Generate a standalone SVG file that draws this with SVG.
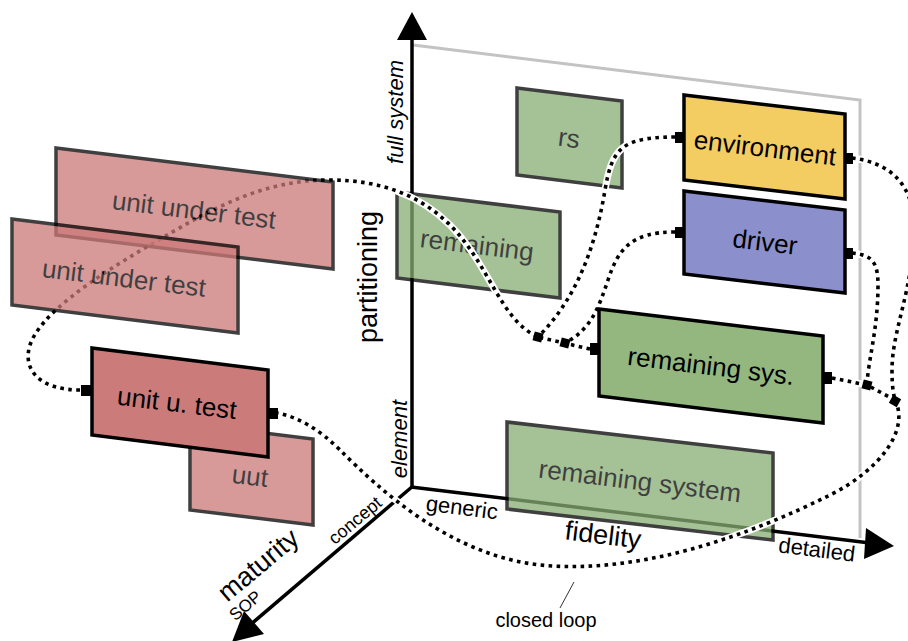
<svg xmlns="http://www.w3.org/2000/svg" width="908" height="641" viewBox="0 0 908 641">
  <style>
    text { font-family: "Liberation Sans", Arial, sans-serif; fill: #000; }
    .box { stroke: #000; stroke-width: 3.5; stroke-linejoin: miter; }
    .faint { opacity: 0.75; }
    .lbl { font-size: 26px; text-anchor: middle; }
    .axis { stroke: #000; stroke-width: 3.5; fill: none; }
    .halo { fill: none; stroke: #fff; stroke-width: 7; }
    .dots { fill: none; stroke: #000; stroke-width: 3.6; stroke-dasharray: 3.6 4.4; }
    .port { fill: #000; }
    .green { fill: #88ad73; }
    .pink { fill: #cc7878; }
  </style>

  <defs>
    <!-- wiring between ports and junctions -->
    <g id="wires" fill="none">
      <path d="M80,390 C40,390 22,370 30,345 C40,315 90,280 150,245 C210,210 260,180 330,180 C380,180 420,195 450,225 C490,265 500,320 538,337"/>
      <path d="M675,137 C620,137 612,150 605,190 C595,250 575,300 538,337"/>
      <path d="M675,232 C630,232 618,250 608,280 C598,310 590,330 565,343"/>
      <path d="M590,349 L538,337"/>
      <path d="M832,378 L867,385 L895,400"/>
      <path d="M852,253 C872,255 878,262 878,285 C878,330 868,360 867,385"/>
      <path d="M852,158 C885,162 915,180 914,230 C913,290 892,330 892,370 C892,385 893,392 895,400"/>
      <path d="M895,400 C910,430 880,470 830,495 C750,535 640,575 540,565 C450,555 380,490 340,450 C320,430 300,418 278,413"/>
    </g>
  </defs>

  <!-- back plane of the partitioning / fidelity space -->
  <polyline points="413,45 860,100 860,538" fill="none" stroke="#c3c3c3" stroke-width="3"/>

  <!-- axes -->
  <g id="axes">
    <line class="axis" x1="412" y1="489" x2="412" y2="36"/>
    <polygon points="412,12 397,40 427,40" fill="#000"/>
    <line class="axis" x1="411" y1="487" x2="870" y2="543"/>
    <polygon points="894,546 866,528 864,559" fill="#000"/>
    <line class="axis" x1="413" y1="486" x2="250" y2="625"/>
    <polygon points="232,642 264,634 244,611" fill="#000"/>
  </g>

  <!-- translucent variants of the remaining system -->
  <g id="rs" class="faint">
    <polygon class="box green" points="517,88 622,101 622,188 517,175"/>
    <text class="lbl" transform="translate(569,138) rotate(7)" y="9">rs</text>
  </g>
  <g id="remaining" class="faint">
    <polygon class="box green" points="397,192 560,212 560,298 397,278"/>
    <text class="lbl" transform="translate(477,245) rotate(7)" y="9">remaining</text>
  </g>
  <g id="remaining-system" class="faint">
    <polygon class="box green" points="507,422 773,453 773,540 507,509"/>
    <text class="lbl" transform="translate(640,481) rotate(7)" y="9">remaining system</text>
  </g>

  <!-- signal connections: white halo under a dotted line -->
  <g id="connectors">
    <use href="#wires" class="halo"/>
    <use href="#wires" class="dots"/>
    <g id="junctions" fill="#000">
      <rect x="-4.5" y="-4.5" width="9" height="9" transform="translate(538,337) rotate(15)"/>
      <rect x="-4.5" y="-4.5" width="9" height="9" transform="translate(565,343) rotate(15)"/>
      <rect x="-4.5" y="-4.5" width="9" height="9" transform="translate(867,385) rotate(15)"/>
      <rect x="-4.5" y="-4.5" width="9" height="9" transform="translate(895,401) rotate(30)"/>
    </g>
  </g>

  <!-- detailed models -->
  <g id="environment">
    <polygon class="box" fill="#f3cd62" points="684,95 845,114 845,199 684,180"/>
    <rect class="port" x="675" y="132" width="9" height="11"/>
    <rect class="port" x="845" y="153" width="8" height="11"/>
    <text class="lbl" transform="translate(765,148) rotate(7)" y="9">environment</text>
  </g>
  <g id="driver">
    <polygon class="box" fill="#8b8fcc" points="684,191 845,210 845,293 684,274"/>
    <rect class="port" x="675" y="227" width="9" height="11"/>
    <rect class="port" x="845" y="248" width="8" height="11"/>
    <text class="lbl" transform="translate(765,242) rotate(7)" y="9">driver</text>
  </g>
  <g id="remaining-sys">
    <polygon class="box" fill="#93b77e" points="599,309 823,336 823,423 599,396"/>
    <rect class="port" x="590" y="343" width="9" height="12"/>
    <rect class="port" x="823" y="372" width="9" height="12"/>
    <text class="lbl" transform="translate(711,366) rotate(7)" y="9">remaining sys.</text>
  </g>

  <!-- unit under test at different maturity levels -->
  <g id="uut-back" class="faint">
    <polygon class="box pink" points="56,148 333,182 333,269 56,235"/>
    <text class="lbl" transform="translate(194,210) rotate(7)" y="9">unit under test</text>
  </g>
  <g id="uut-front" class="faint">
    <polygon class="box pink" points="12,219 238,247 238,333 12,305"/>
    <text class="lbl" transform="translate(124,278) rotate(7)" y="9">unit under test</text>
  </g>
  <g id="uut-small" class="faint">
    <polygon class="box pink" points="190,424 313,439 313,525 190,510"/>
    <text class="lbl" transform="translate(250,476) rotate(7)" y="9">uut</text>
  </g>
  <g id="unit-u-test">
    <polygon class="box" fill="#cc7b7b" points="92,348 268,370 268,457 92,435"/>
    <rect class="port" x="81" y="385" width="11" height="11"/>
    <rect class="port" x="268" y="408" width="10" height="11"/>
    <text class="lbl" transform="translate(177,403) rotate(7)" y="9">unit u. test</text>
  </g>

  <!-- axis labels -->
  <g id="labels">
    <text transform="translate(403,112) rotate(-90)" font-size="22" font-style="italic" text-anchor="middle">full system</text>
    <text transform="translate(407,439) rotate(-90)" font-size="22" font-style="italic" text-anchor="middle">element</text>
    <text transform="translate(377,277) rotate(-90)" font-size="27" text-anchor="middle">partitioning</text>
    <text transform="translate(461,515) rotate(7)" font-size="22" text-anchor="middle">generic</text>
    <text transform="translate(602,544) rotate(7)" font-size="27" text-anchor="middle">fidelity</text>
    <text transform="translate(816,557) rotate(7)" font-size="22" text-anchor="middle">detailed</text>
    <text transform="translate(359,525) rotate(-40)" font-size="18" text-anchor="middle">concept</text>
    <text transform="translate(264,572) rotate(-40)" font-size="27" text-anchor="middle">maturity</text>
    <text transform="translate(249,610) rotate(-40)" font-size="17" text-anchor="middle">SOP</text>
    <line x1="574" y1="582" x2="560" y2="608" stroke="#333" stroke-width="1"/>
    <text x="546" y="627" font-size="20" text-anchor="middle">closed loop</text>
  </g>
</svg>
